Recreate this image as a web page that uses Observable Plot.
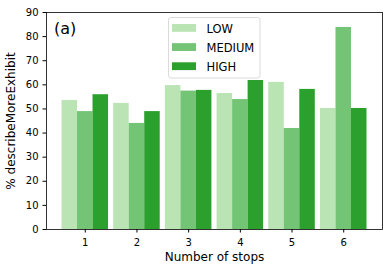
<!DOCTYPE html>
<html><head><meta charset="utf-8">
<script src="https://cdn.jsdelivr.net/npm/d3@7"></script>
<script src="https://cdn.jsdelivr.net/npm/@observablehq/plot@0.6"></script>
<style>
body{margin:0;background:#fff;}
#wrap{position:relative;width:391px;height:273px;font-family:"DejaVu Sans",sans-serif;}
#overlay{position:absolute;left:0;top:0;pointer-events:none;}
</style></head><body><div id="wrap"></div>
<script>
const stops = [1, 2, 3, 4, 5, 6];
const levels = ["LOW", "MEDIUM", "HIGH"];
const low = [53.5, 52.3, 59.7, 56.4, 61.0, 50.2];
const medium = [48.9, 44.0, 57.4, 53.9, 41.9, 83.8];
const high = [55.9, 48.9, 57.7, 61.8, 58.1, 50.2];
const colors = ["#bae4b3", "#74c476", "#2ca02c"];
const yTicks = [0, 10, 20, 30, 40, 50, 60, 70, 80, 90];
const panelLabel = "(a)";
const xLabel = "Number of stops";
const yLabel = "% describeMoreExhibit";

// grouped bars as matplotlib does: bar width 0.3, offsets -0.3, 0, +0.3 around each stop
const barWidth = 0.3;
const series = [low, medium, high];
const data = stops.flatMap((s, i) => levels.map((l, j) => ({
  stop: s, level: l, value: series[j][i],
  x1: s + (j - 1.5) * barWidth, x2: s + (j - 0.5) * barWidth
})));

const chart = Plot.plot({
  width: 391, height: 273,
  marginLeft: 46, marginRight: 9, marginTop: 12, marginBottom: 44,
  style: {fontFamily: "DejaVu Sans", fontSize: "10px", color: "#000", background: "#fff"},
  x: {domain: [0.25, 6.75]},
  y: {domain: [0, 90]},
  color: {domain: levels, range: colors},
  marks: [
    Plot.rectY(data, {x1: "x1", x2: "x2", y: "value", fill: "level", inset: 0}),
    Plot.axisY({ticks: yTicks, tickSize: 3.5, tickPadding: 4.5, fontSize: 10, label: null}),
    Plot.axisY({ticks: [], tickSize: 0, label: yLabel, labelAnchor: "center", labelArrow: "none", labelOffset: 40, fontSize: 12}),
    Plot.axisX({ticks: stops, tickFormat: d => String(d), tickSize: 3.5, tickPadding: 5.8, fontSize: 10, label: null}),
    Plot.axisX({ticks: [], tickSize: 0, label: xLabel, labelAnchor: "center", labelArrow: "none", labelOffset: 31, fontSize: 12}),
    Plot.frame({stroke: "#000", strokeWidth: 0.8})
  ]
});
const wrap = document.getElementById("wrap");
wrap.appendChild(chart);

const svg = d3.select(wrap).append("svg").attr("id", "overlay").attr("width", 391).attr("height", 273)
  .style("font-family", "DejaVu Sans");
svg.append("text").attr("x", 54).attr("y", 34).attr("font-size", 16).text(panelLabel);
const lg = svg.append("g");
lg.append("rect").attr("x", 168.5).attr("y", 17.5).attr("width", 91.5).attr("height", 60.5)
  .attr("rx", 2.5).attr("fill", "rgba(255,255,255,0.8)").attr("stroke", "#d0d0d0").attr("stroke-width", 0.8);
levels.forEach((l, j) => {
  const y = 24 + j * 19.15;
  lg.append("rect").attr("x", 172).attr("y", y).attr("width", 24).attr("height", 7.8).attr("fill", colors[j]);
  lg.append("text").attr("x", 206.5).attr("y", y + 8.7).attr("font-size", 11.5).text(l);
});
</script></body></html>
